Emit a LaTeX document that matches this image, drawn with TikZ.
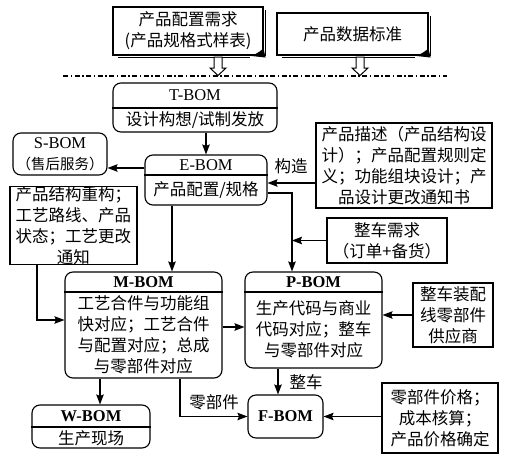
\documentclass[tikz,border=0pt]{standalone}
\usepackage{fontspec}
\setmainfont{Liberation Serif}
\newfontfamily\cjk{Noto Sans CJK SC}
\usetikzlibrary{arrows.meta,calc}
\tikzset{
  zh/.style={font=\cjk\fontsize{16.5}{21}\selectfont},
  bomtitle/.style={font=\fontsize{16.5}{18}\selectfont},
  bomtitleb/.style={font=\bfseries\fontsize{16.5}{18}\selectfont},
  bombox/.style={draw, line width=1.1pt, rounded corners=8pt, inner sep=0pt},
  rbox/.style={draw, line width=1.2pt, inner sep=0pt, align=center, zh},
  docbox/.style={draw, line width=1.1pt, inner sep=0pt, align=center, zh},
  arr/.style={line width=1.1pt, -{Stealth[length=10pt,width=7.5pt,inset=1.5pt]}},
  divline/.style={line width=1.1pt},
  hollow/.style={line width=1pt, fill=white},
}
\begin{document}
\begin{tikzpicture}[x=1pt,y=-1pt]
\useasboundingbox (0,0) rectangle (509,458);

% document boxes
\node[docbox, minimum width=150pt, minimum height=48pt] (D1) at (188,31) {产品配置需求\\(产品规格式样表)};
\node[docbox, minimum width=151pt, minimum height=42pt] (D2) at (352.5,34) {产品数据标准};
\foreach \d in {D1,D2}{
  \draw[line width=1.8pt] ([shift={(2,4)}]\d.north east) -- ([shift={(2,0)}]\d.south east);
  \draw[line width=1.8pt] ([shift={(6,2)}]\d.south west) -- ([shift={(-14,2)}]\d.south east);
  \fill ([shift={(-16,0)}]\d.south east) .. controls ([shift={(-8,-1)}]\d.south east) .. ([shift={(0,-7)}]\d.south east) -- ([shift={(2,2)}]\d.south east) -- cycle;
}
\coordinate (h1) at (218,57);
\coordinate (h2) at (360,57);
\foreach \h in {h1,h2}{
  \draw[hollow] (\h) ++(-4,0) -- ++(0,11) -- ++(-4,0) -- ++(8,7.5) -- ++(8,-7.5) -- ++(-4,0) -- ++(0,-11) -- cycle;
}
% dash-dot line
\coordinate (dl) at (63,76);
\coordinate (dr) at (447,76);
\draw[line width=1.2pt, dash pattern=on 5pt off 2.5pt on 1.5pt off 2.5pt] (dl) -- (dr);

% BOM boxes
\node[bombox, minimum width=164pt, minimum height=49pt] (T) at (195,107.5) {};
\draw[divline] (T.west |- 0,108) -- (T.east |- 0,108);
\node[bomtitle] at (195,95.5) {T-BOM};
\node[zh] at (195,120) {设计构想/试制发放};

\node[bombox, minimum width=122pt, minimum height=50pt] (E) at (206,180) {};
\draw[divline] (E.west |- 0,175) -- (E.east |- 0,175);
\node[bomtitle] at (206,165) {E-BOM};
\node[zh] at (206,190) {产品配置/规格};

\node[bombox, minimum width=94pt, minimum height=42pt] (S) at (60,154) {};
\node[bomtitle] at (60,143) {S-BOM};
\node[zh, font=\cjk\fontsize{14.5}{18}\selectfont] at (60,164) {（售后服务）};

\node[bombox, minimum width=157pt, minimum height=106pt] (M) at (143.5,325) {};
\draw[divline] (M.west |- 0,292) -- (M.east |- 0,292);
\node[bomtitleb] at (143.5,282) {M-BOM};
\node[zh, align=center] at (143.5,335) {工艺合件与功能组\\快对应；工艺合件\\与配置对应；总成\\与零部件对应};

\node[bombox, minimum width=137pt, minimum height=96pt] (P) at (313.5,320) {};
\draw[divline] (P.west |- 0,292) -- (P.east |- 0,292);
\node[bomtitleb] at (313.5,282) {P-BOM};
\node[zh, align=center] at (313.5,329) {生产代码与商业\\代码对应；整车\\与零部件对应};

\node[bombox, minimum width=118pt, minimum height=43pt] (W) at (91,426.5) {};
\draw[divline] (W.west |- 0,427) -- (W.east |- 0,427);
\node[bomtitleb] at (91,416) {W-BOM};
\node[zh] at (91,438) {生产现场};

\node[bombox, minimum width=75pt, minimum height=43pt, bomtitleb] (F) at (285.5,416.5) {F-BOM};

% rectangular note boxes
\node[rbox, minimum width=176pt, minimum height=85pt] (R1) at (404,165.5) {产品描述（产品结构设\\计）；产品配置规则定\\义；功能组块设计；产\\品设计更改通知书};
\node[rbox, minimum width=127pt, minimum height=75pt] (R2) at (73.5,225.5) {产品结构重构；\\工艺路线、产品\\状态；工艺更改\\通知};
\node[rbox, minimum width=120pt, minimum height=45pt] (R3) at (387,240.5) {整车需求\\（订单+备货）};
\node[rbox, minimum width=80pt, minimum height=64pt] (R4) at (453,315) {整车装配\\线零部件\\供应商};
\node[rbox, minimum width=116pt, minimum height=70pt] (R5) at (440,418) {零部件价格；\\成本核算；\\产品价格确定};

% labels
\node[zh] (lb1) at (291,166) {构造};
\node[zh] (lb2) at (214,402) {零部件};
\node[zh] (lb3) at (306,382) {整车};

% helper coordinates
\coordinate (y168) at (0,168);
\coordinate (y183) at (0,183);
\coordinate (y193) at (0,193);
\coordinate (y320) at (0,320);
\coordinate (y327) at (0,327);
\coordinate (px) at (292,0);
\coordinate (mx) at (172,0);
\coordinate (lx) at (37,0);
\coordinate (wx) at (100,0);
\coordinate (fx) at (180,0);
\coordinate (qx) at (278,0);

% connectors
\draw[arr] (T.south -| E.north) -- (E.north);
\draw[arr] (E.west |- y168) -- (S.east |- y168);
\draw[arr] (R1.west |- y183) -- (E.east |- y183);
\draw[arr] (E.east |- y193) -| (px |- P.north);
\draw[arr] (R3.west) -- (px |- R3.west);
\draw[arr] (mx |- E.south) -- (mx |- M.north);
\draw[arr] (lx |- R2.south) |- (M.west |- y320);
\draw[arr] (M.east |- y327) -- (P.west |- y327);
\draw[arr] (R4.west) -- (P.east |- R4.west);
\draw[arr] (wx |- M.south) -- (wx |- W.north);
\draw[arr] (fx |- M.south) |- (F.west);
\draw[arr] (qx |- P.south) -- (qx |- F.north);
\draw[arr] (R5.west |- F.east) -- (F.east);
\end{tikzpicture}
\end{document}
